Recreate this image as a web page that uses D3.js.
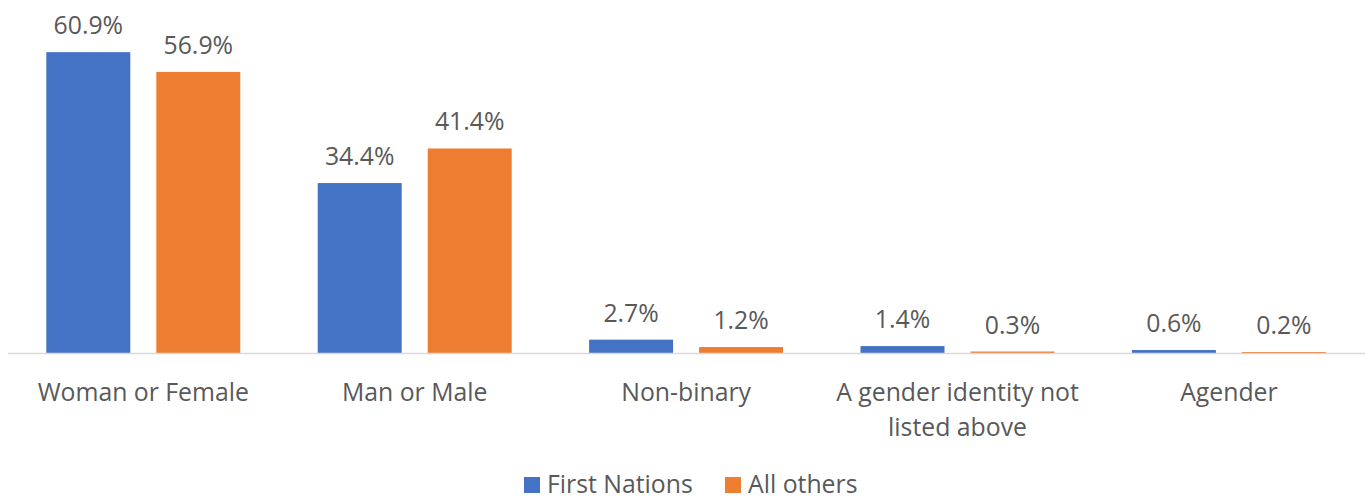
<!DOCTYPE html>
<html>
<head>
<meta charset="utf-8">
<script src="https://cdn.jsdelivr.net/npm/d3@7"></script>
<style>
  body { margin: 0; background: #fff; }
  svg text { font-family: "Open Sans", "Noto Sans", sans-serif; fill: #595959; }
</style>
</head>
<body>
<div id="chart"></div>
<script>
const categories = ["Woman or Female", "Man or Male", "Non-binary", "A gender identity not|listed above", "Agender"];
const seriesNames = ["First Nations", "All others"];
const firstNations = [60.9, 34.4, 2.7, 1.4, 0.6];
const allOthers = [56.9, 41.4, 1.2, 0.3, 0.2];

const width = 1365, height = 500;
const colors = ["#4472C4", "#ED7D31"];
const fontSize = "24.8px";

const svg = d3.select("#chart").append("svg")
    .attr("width", width)
    .attr("height", height);

const data = categories.map((c, i) => ({
    category: c,
    values: [firstNations[i], allOthers[i]]
}));

const x0 = d3.scaleBand()
    .domain(categories)
    .range([7.6, 1364.6]);

const x1 = d3.scaleBand()
    .domain(d3.range(seriesNames.length))
    .range([0, x0.bandwidth()])
    .paddingInner(0.2364)
    .paddingOuter(0.352);

const y = d3.scaleLinear()
    .domain([0, 70])
    .range([353, 7.2]);

// bars
const groups = svg.selectAll(".group")
    .data(data)
    .enter()
    .append("g")
    .attr("class", "group")
    .attr("transform", d => "translate(" + x0(d.category) + ",0)");

groups.selectAll("rect")
    .data(d => d.values)
    .enter()
    .append("rect")
    .attr("x", (d, i) => x1(i))
    .attr("width", x1.bandwidth())
    .attr("y", d => y(d))
    .attr("height", d => y(0) - y(d))
    .attr("fill", (d, i) => colors[i]);

groups.selectAll(".val")
    .data(d => d.values)
    .enter()
    .append("text")
    .attr("class", "val")
    .attr("x", (d, i) => x1(i) + x1.bandwidth() / 2)
    .attr("y", d => y(d) - 18)
    .attr("text-anchor", "middle")
    .attr("font-size", fontSize)
    .text(d => d.toFixed(1) + "%");

// axis line
const xAxis = d3.axisBottom(x0).tickSize(0).tickFormat("");
const axisG = svg.append("g")
    .attr("transform", "translate(0," + y(0) + ")")
    .call(xAxis);
axisG.select(".domain").attr("stroke", "#d9d9d9").attr("stroke-width", 1.5);

// category labels
svg.selectAll(".cat")
    .data(categories)
    .enter()
    .append("text")
    .attr("class", "cat")
    .attr("text-anchor", "middle")
    .attr("font-size", fontSize)
    .attr("x", d => x0(d) + x0.bandwidth() / 2)
    .attr("y", 401)
    .each(function(d) {
        const lines = d.split("|");
        d3.select(this).selectAll("tspan")
            .data(lines)
            .enter()
            .append("tspan")
            .attr("x", x0(d) + x0.bandwidth() / 2)
            .attr("dy", (l, i) => i === 0 ? 0 : 35)
            .text(l => l);
    });

// legend
const legendX = [524, 725];
const legend = svg.selectAll(".legend")
    .data(seriesNames)
    .enter()
    .append("g")
    .attr("class", "legend")
    .attr("transform", (d, i) => "translate(" + legendX[i] + ",477)");

legend.append("rect")
    .attr("width", 16)
    .attr("height", 16)
    .attr("fill", (d, i) => colors[i]);

legend.append("text")
    .attr("x", 23)
    .attr("y", 16)
    .attr("font-size", fontSize)
    .text(d => d);
</script>
</body>
</html>
